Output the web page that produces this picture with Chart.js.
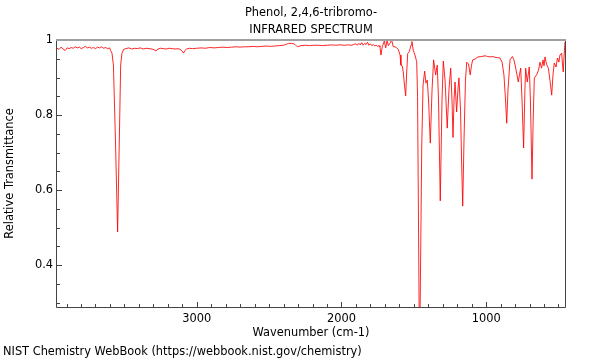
<!DOCTYPE html>
<html>
<head>
<meta charset="utf-8">
<script src="https://cdn.jsdelivr.net/npm/chart.js@4.4.1/dist/chart.umd.min.js"></script>
<style>
  html, body { margin: 0; padding: 0; background: #ffffff; }
  #wrap { width: 600px; height: 360px; }
</style>
</head>
<body>
<div id="wrap"><canvas id="c" width="600" height="360"></canvas></div>
<script>
const chartTitle = ['Phenol, 2,4,6-tribromo-', 'INFRARED SPECTRUM'];
const footerText = 'NIST Chemistry WebBook (https://webbook.nist.gov/chemistry)';
const xAxisTitle = 'Wavenumber (cm-1)';
const yAxisTitle = 'Relative Transmittance';
const xTicks = [3000, 2000, 1000];
const yTicks = [0.4, 0.6, 0.8, 1];
const xRange = [455, 3966];
const yRange = [0.288, 1];

const wavenumbers = [
  3966, 3952, 3938, 3924, 3910, 3896, 3882, 3868, 3854, 3840,
  3826, 3812, 3798, 3784, 3770, 3756, 3742, 3728, 3714, 3700,
  3686, 3672, 3658, 3644, 3630, 3616, 3602, 3595, 3586, 3576,
  3562, 3547, 3534, 3526, 3517, 3505, 3490, 3470, 3450, 3430,
  3410, 3390, 3370, 3350, 3330, 3310, 3295, 3282, 3268, 3250,
  3230, 3210, 3190, 3170, 3150, 3130, 3115, 3100, 3092, 3082,
  3070, 3050, 3030, 3000, 2970, 2940, 2910, 2880, 2850, 2820,
  2790, 2760, 2730, 2700, 2670, 2640, 2610, 2580, 2550, 2520,
  2490, 2460, 2430, 2400, 2380, 2365, 2345, 2330, 2318, 2305,
  2295, 2280, 2250, 2220, 2190, 2160, 2130, 2100, 2070, 2040,
  2010, 1980, 1950, 1930, 1915, 1900, 1890, 1880, 1870, 1860,
  1850, 1840, 1830, 1820, 1810, 1800, 1790, 1780, 1770, 1760,
  1750, 1740, 1734, 1727, 1718, 1704, 1694, 1685, 1676, 1665,
  1653, 1642, 1630, 1618, 1607, 1595, 1589, 1580, 1573, 1563,
  1556, 1549, 1542, 1531, 1519, 1513, 1504, 1492, 1480, 1474,
  1462, 1457, 1445, 1436, 1425, 1416, 1407, 1398, 1386, 1374,
  1363, 1349, 1338, 1329, 1317, 1305, 1296, 1284, 1269, 1257,
  1245, 1236, 1229, 1222, 1215, 1204, 1195, 1188, 1177, 1170,
  1162, 1153, 1143, 1134, 1122, 1110, 1101, 1093, 1077, 1056,
  1030, 1008, 990, 973, 955, 939, 920, 904, 890, 877,
  866, 858, 849, 835, 819, 808, 797, 787, 778, 770,
  761, 752, 741, 732, 727, 716, 702, 694, 683, 675,
  667, 651, 638, 628, 617, 607, 600, 593, 583, 570,
  559, 547, 538, 529, 517, 507, 497, 490, 478, 472,
  467, 461, 455
];

const transmittance = [
  0.978, 0.975, 0.981, 0.976, 0.972, 0.979, 0.977, 0.980, 0.978, 0.982,
  0.979, 0.981, 0.977, 0.980, 0.983, 0.979, 0.981, 0.978, 0.980, 0.977,
  0.981, 0.979, 0.982, 0.978, 0.980, 0.977, 0.979, 0.972, 0.965, 0.933,
  0.733, 0.488, 0.760, 0.933, 0.965, 0.975, 0.977, 0.979, 0.976, 0.978,
  0.977, 0.979, 0.976, 0.978, 0.977, 0.976, 0.974, 0.971, 0.976, 0.978,
  0.977, 0.976, 0.978, 0.977, 0.976, 0.977, 0.975, 0.970, 0.965, 0.972,
  0.976, 0.978, 0.977, 0.978, 0.979, 0.978, 0.980, 0.979, 0.980, 0.981,
  0.980, 0.981, 0.982, 0.981, 0.982, 0.982, 0.983, 0.982, 0.983, 0.984,
  0.983, 0.984, 0.985, 0.986, 0.989, 0.991, 0.991, 0.990, 0.987, 0.982,
  0.983, 0.985, 0.986, 0.985, 0.986, 0.986, 0.985, 0.986, 0.987, 0.986,
  0.987, 0.986, 0.987, 0.986, 0.988, 0.990, 0.986, 0.991, 0.987, 0.993,
  0.986, 0.991, 0.988, 0.994, 0.986, 0.990, 0.985, 0.988, 0.984, 0.986,
  0.983, 0.985, 0.982, 0.960, 0.982, 0.997, 0.979, 1.000, 0.985, 0.991,
  1.000, 0.982, 0.982, 0.979, 0.975, 0.960, 0.933, 0.931, 0.915, 0.875,
  0.851, 0.915, 0.964, 0.969, 0.987, 0.996, 0.973, 0.960, 0.942, 0.850,
  0.220, 0.250, 0.720, 0.880, 0.917, 0.885, 0.893, 0.840, 0.725, 0.867,
  0.947, 0.907, 0.933, 0.840, 0.571, 0.840, 0.944, 0.893, 0.765, 0.867,
  0.925, 0.840, 0.740, 0.840, 0.888, 0.808, 0.867, 0.899, 0.813, 0.680,
  0.557, 0.733, 0.893, 0.941, 0.936, 0.907, 0.933, 0.947, 0.949, 0.955,
  0.956, 0.958, 0.956, 0.955, 0.956, 0.954, 0.953, 0.952, 0.941, 0.907,
  0.840, 0.778, 0.867, 0.947, 0.956, 0.947, 0.928, 0.907, 0.888, 0.907,
  0.925, 0.840, 0.712, 0.867, 0.925, 0.888, 0.928, 0.840, 0.629, 0.787,
  0.899, 0.907, 0.920, 0.941, 0.925, 0.947, 0.931, 0.955, 0.936, 0.925,
  0.893, 0.853, 0.907, 0.939, 0.928, 0.952, 0.941, 0.960, 0.965, 0.933,
  0.915, 0.960, 0.995
];

const FONT = 'DejaVu Sans';
const FSIZE = 11.4;

const framePlugin = {
  id: 'frame',
  afterDatasetsDraw(chart) {
    const { ctx, chartArea: a, scales: { x, y } } = chart;
    ctx.save();
    ctx.strokeStyle = '#444444';
    ctx.lineWidth = 1;
    ctx.beginPath();
    for (let v = 500; v <= 3900; v += 100) {
      const px = Math.round(x.getPixelForValue(v)) + 0.5;
      const len = xTicks.includes(v) ? 5 : 3;
      ctx.moveTo(px, a.bottom);
      ctx.lineTo(px, a.bottom - len);
    }
    for (let k = 6; k <= 20; k++) {
      const v = k * 0.05;
      const py = Math.round(y.getPixelForValue(v)) + 0.5;
      const len = (k % 4 === 0) ? 5 : 3;
      ctx.moveTo(a.left, py);
      ctx.lineTo(a.left + len, py);
    }
    ctx.stroke();
    ctx.beginPath();
    ctx.moveTo(a.left - 0.5, a.top);
    ctx.lineTo(a.left - 0.5, a.bottom + 0.5);
    ctx.lineTo(a.right + 0.5, a.bottom + 0.5);
    ctx.lineTo(a.right + 0.5, a.top);
    ctx.stroke();
    ctx.strokeStyle = '#a0a0a0';
    ctx.lineWidth = 2;
    ctx.beginPath();
    ctx.moveTo(a.left - 1, a.top);
    ctx.lineTo(a.right + 1, a.top);
    ctx.stroke();
    ctx.restore();
  }
};

new Chart(document.getElementById('c'), {
  type: 'line',
  data: {
    datasets: [{
      data: wavenumbers.map((w, i) => ({ x: w, y: transmittance[i] })),
      borderColor: 'rgba(255,0,0,0.85)',
      borderWidth: 1,
      pointRadius: 0,
      tension: 0,
      fill: false
    }]
  },
  options: {
    responsive: false,
    animation: false,
    events: [],
    layout: { padding: { left: 3, right: 35, top: 0, bottom: 0 } },
    plugins: {
      legend: { display: false },
      tooltip: { enabled: false },
      title: {
        display: true,
        text: chartTitle,
        fullSize: false,
        color: '#000000',
        font: { family: FONT, size: FSIZE, weight: 'normal', lineHeight: 17 / FSIZE },
        padding: { top: 4.5, bottom: 1.5 }
      },
      subtitle: {
        display: true,
        text: footerText,
        position: 'bottom',
        align: 'start',
        color: '#000000',
        font: { family: FONT, size: FSIZE, weight: 'normal', lineHeight: 1.2 },
        padding: { top: 5, bottom: 1.3 }
      }
    },
    scales: {
      x: {
        type: 'linear',
        reverse: true,
        min: xRange[0],
        max: xRange[1],
        grid: { display: false, drawTicks: false },
        border: { display: false },
        afterBuildTicks: s => { s.ticks = xTicks.map(v => ({ value: v })); },
        afterFit: s => { s.height = 33; },
        ticks: {
          color: '#000000',
          padding: 5,
          maxRotation: 0,
          font: { family: FONT, size: FSIZE, lineHeight: 1.2 },
          callback: v => String(v)
        },
        title: {
          display: true,
          text: xAxisTitle,
          color: '#000000',
          font: { family: FONT, size: FSIZE, lineHeight: 1.2 },
          padding: { top: 0, bottom: 0 }
        }
      },
      y: {
        type: 'linear',
        min: yRange[0],
        max: yRange[1],
        grid: { display: false, drawTicks: false },
        border: { display: false },
        afterBuildTicks: s => { s.ticks = yTicks.map(v => ({ value: v })); },
        afterFit: s => { s.width = 54; },
        ticks: {
          color: '#000000',
          padding: 4,
          font: { family: FONT, size: FSIZE, lineHeight: 1.2 },
          callback: v => String(v)
        },
        title: {
          display: true,
          text: yAxisTitle,
          color: '#000000',
          font: { family: FONT, size: FSIZE, lineHeight: 1.2 },
          padding: { top: 0.5, bottom: 0 }
        }
      }
    }
  },
  plugins: [framePlugin]
});
</script>
</body>
</html>
